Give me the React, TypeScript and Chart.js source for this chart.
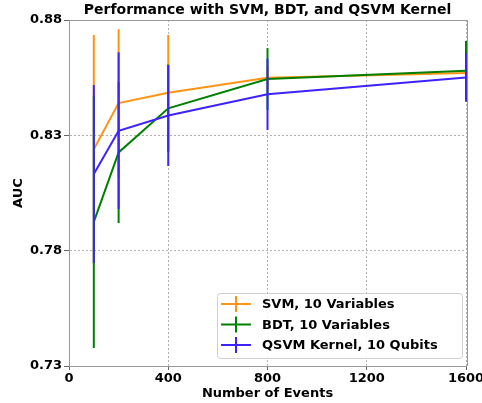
import React, { useEffect, useRef } from 'react';
import { Chart, registerables } from 'chart.js';

Chart.register(...registerables);

const xValues = [100, 200, 400, 800, 1600];
const svmAuc = [0.824, 0.844, 0.8485, 0.855, 0.857];
const svmErr = [0.0495, 0.032, 0.025, 0.005, 0.004];
const bdtAuc = [0.7925, 0.8226, 0.8417, 0.8544, 0.858];
const bdtErr = [0.0547, 0.0306, 0.019, 0.0134, 0.0129];
const qsvmAuc = [0.8132, 0.832, 0.8386, 0.8478, 0.8551];
const qsvmErr = [0.0386, 0.034, 0.0219, 0.0155, 0.0105];
const seriesLabels = ['SVM, 10 Variables', 'BDT, 10 Variables', 'QSVM Kernel, 10 Qubits'];
const xTicks = [0, 400, 800, 1200, 1600];
const yTicks = [0.73, 0.78, 0.83, 0.88];
const titleText = 'Performance with SVM, BDT, and QSVM Kernel';
const xTitle = 'Number of Events';
const yTitle = 'AUC';

const colors = ['#ff9414', '#008000', '#3c22ff'];
const FONT = "'DejaVu Sans', sans-serif";

export default function App() {
  const ref = useRef<HTMLCanvasElement>(null);
  useEffect(() => {
    document.body.style.margin = '0';
    const errs = [svmErr, bdtErr, qsvmErr];
    const vals = [svmAuc, bdtAuc, qsvmAuc];

    const errorBars = {
      id: 'errorBars',
      afterDatasetDraw(chart: any, args: any) {
        const i = args.index;
        const ds = chart.data.datasets[i];
        const { ctx, chartArea, scales } = chart;
        ctx.save();
        ctx.beginPath();
        ctx.rect(chartArea.left - 3, chartArea.top, chartArea.right - chartArea.left + 6, chartArea.bottom - chartArea.top);
        ctx.clip();
        ctx.strokeStyle = ds.borderColor;
        ctx.lineWidth = 2;
        ds.data.forEach((p: any, j: number) => {
          const x = scales.x.getPixelForValue(p.x);
          const y1 = scales.y.getPixelForValue(p.y - errs[i][j]);
          const y2 = scales.y.getPixelForValue(p.y + errs[i][j]);
          ctx.beginPath();
          ctx.moveTo(x, y1);
          ctx.lineTo(x, y2);
          ctx.stroke();
        });
        ctx.restore();
      },
    };

    const frameAndLegend = {
      id: 'frameAndLegend',
      afterDraw(chart: any) {
        const { ctx, chartArea } = chart;
        ctx.save();
        ctx.strokeStyle = '#999';
        ctx.lineWidth = 1;
        ctx.beginPath();
        ctx.moveTo(chartArea.left, chartArea.top + 0.5);
        ctx.lineTo(chartArea.right + 1.5, chartArea.top + 0.5);
        ctx.lineTo(chartArea.right + 1.5, chartArea.bottom);
        ctx.stroke();

        // legend
        const bx = 217, by = 293, bw = 245, bh = 65;
        ctx.fillStyle = 'rgba(255,255,255,0.85)';
        ctx.strokeStyle = '#d0d0d0';
        ctx.beginPath();
        (ctx as any).roundRect(bx + 0.5, by + 0.5, bw, bh, 3);
        ctx.fill();
        ctx.stroke();
        ctx.font = `bold 13px ${FONT}`;
        ctx.textBaseline = 'middle';
        ctx.textAlign = 'left';
        chart.data.datasets.forEach((ds: any, k: number) => {
          const cy = by + 11 + k * 20.5;
          ctx.strokeStyle = ds.borderColor;
          ctx.lineWidth = 2;
          ctx.beginPath();
          ctx.moveTo(bx + 4, cy);
          ctx.lineTo(bx + 34, cy);
          ctx.moveTo(bx + 19, cy - 8);
          ctx.lineTo(bx + 19, cy + 8);
          ctx.stroke();
          ctx.fillStyle = '#000';
          ctx.fillText(ds.label, bx + 45, cy + 1);
        });
        ctx.restore();
      },
    };

    const datasets = vals.map((v, i) => ({
      label: seriesLabels[i],
      data: xValues.map((x, j) => ({ x, y: v[j] })),
      borderColor: colors[i],
      backgroundColor: colors[i],
      borderWidth: 2,
      pointRadius: 0,
      tension: 0,
      fill: false,
      order: 3 - i,
    }));

    const tickFont = { family: FONT, size: 13, weight: 'bold' as const };

    const chart = new Chart(ref.current!, {
      type: 'line',
      data: { datasets },
      plugins: [errorBars, frameAndLegend],
      options: {
        animation: false,
        responsive: false,
        devicePixelRatio: 1,
        layout: { padding: { left: 0, right: 16, top: 0, bottom: 0 } },
        plugins: {
          legend: { display: false },
          tooltip: { enabled: false },
          title: {
            display: true,
            text: titleText,
            color: '#000',
            font: { family: FONT, size: 14, weight: 'bold' },
            padding: { top: 2, bottom: 1.2 },
            fullSize: false,
          },
        },
        scales: {
          x: {
            type: 'linear',
            min: 0,
            max: 1600,
            afterBuildTicks: (s: any) => {
              s.ticks = xTicks.map((v) => ({ value: v }));
            },
            afterFit: (s: any) => {
              s.height = 37;
              s.paddingLeft = 0;
              s.paddingRight = 0;
            },
            ticks: {
              color: '#000',
              font: tickFont,
              padding: 1,
              maxRotation: 0,
              autoSkip: false,
              callback: (v: any) => String(v),
            },
            grid: { color: '#b0b0b0', tickColor: '#666', tickLength: 4, tickBorderDash: [] },
            border: { color: '#999', width: 1, dash: [2, 2] },
            title: {
              display: true,
              text: xTitle,
              color: '#000',
              font: tickFont,
              padding: { top: 0, bottom: 2 },
            },
          },
          y: {
            type: 'linear',
            min: 0.73,
            max: 0.88,
            afterBuildTicks: (s: any) => {
              s.ticks = yTicks.map((v) => ({ value: v }));
            },
            afterFit: (s: any) => {
              s.width = 69;
            },
            ticks: {
              color: '#000',
              font: tickFont,
              padding: 2,
              callback: (v: any) => Number(v).toFixed(2),
            },
            grid: { color: '#b0b0b0', tickColor: '#666', tickLength: 5, tickBorderDash: [] },
            border: { color: '#999', width: 1, dash: [2, 2] },
            title: {
              display: true,
              text: yTitle,
              color: '#000',
              font: tickFont,
              padding: { top: 11, bottom: 0 },
            },
          },
        },
      },
    });
    return () => chart.destroy();
  }, []);

  return (
    <div style={{ width: 482, height: 403 }}>
      <canvas ref={ref} width={482} height={403} />
    </div>
  );
}
